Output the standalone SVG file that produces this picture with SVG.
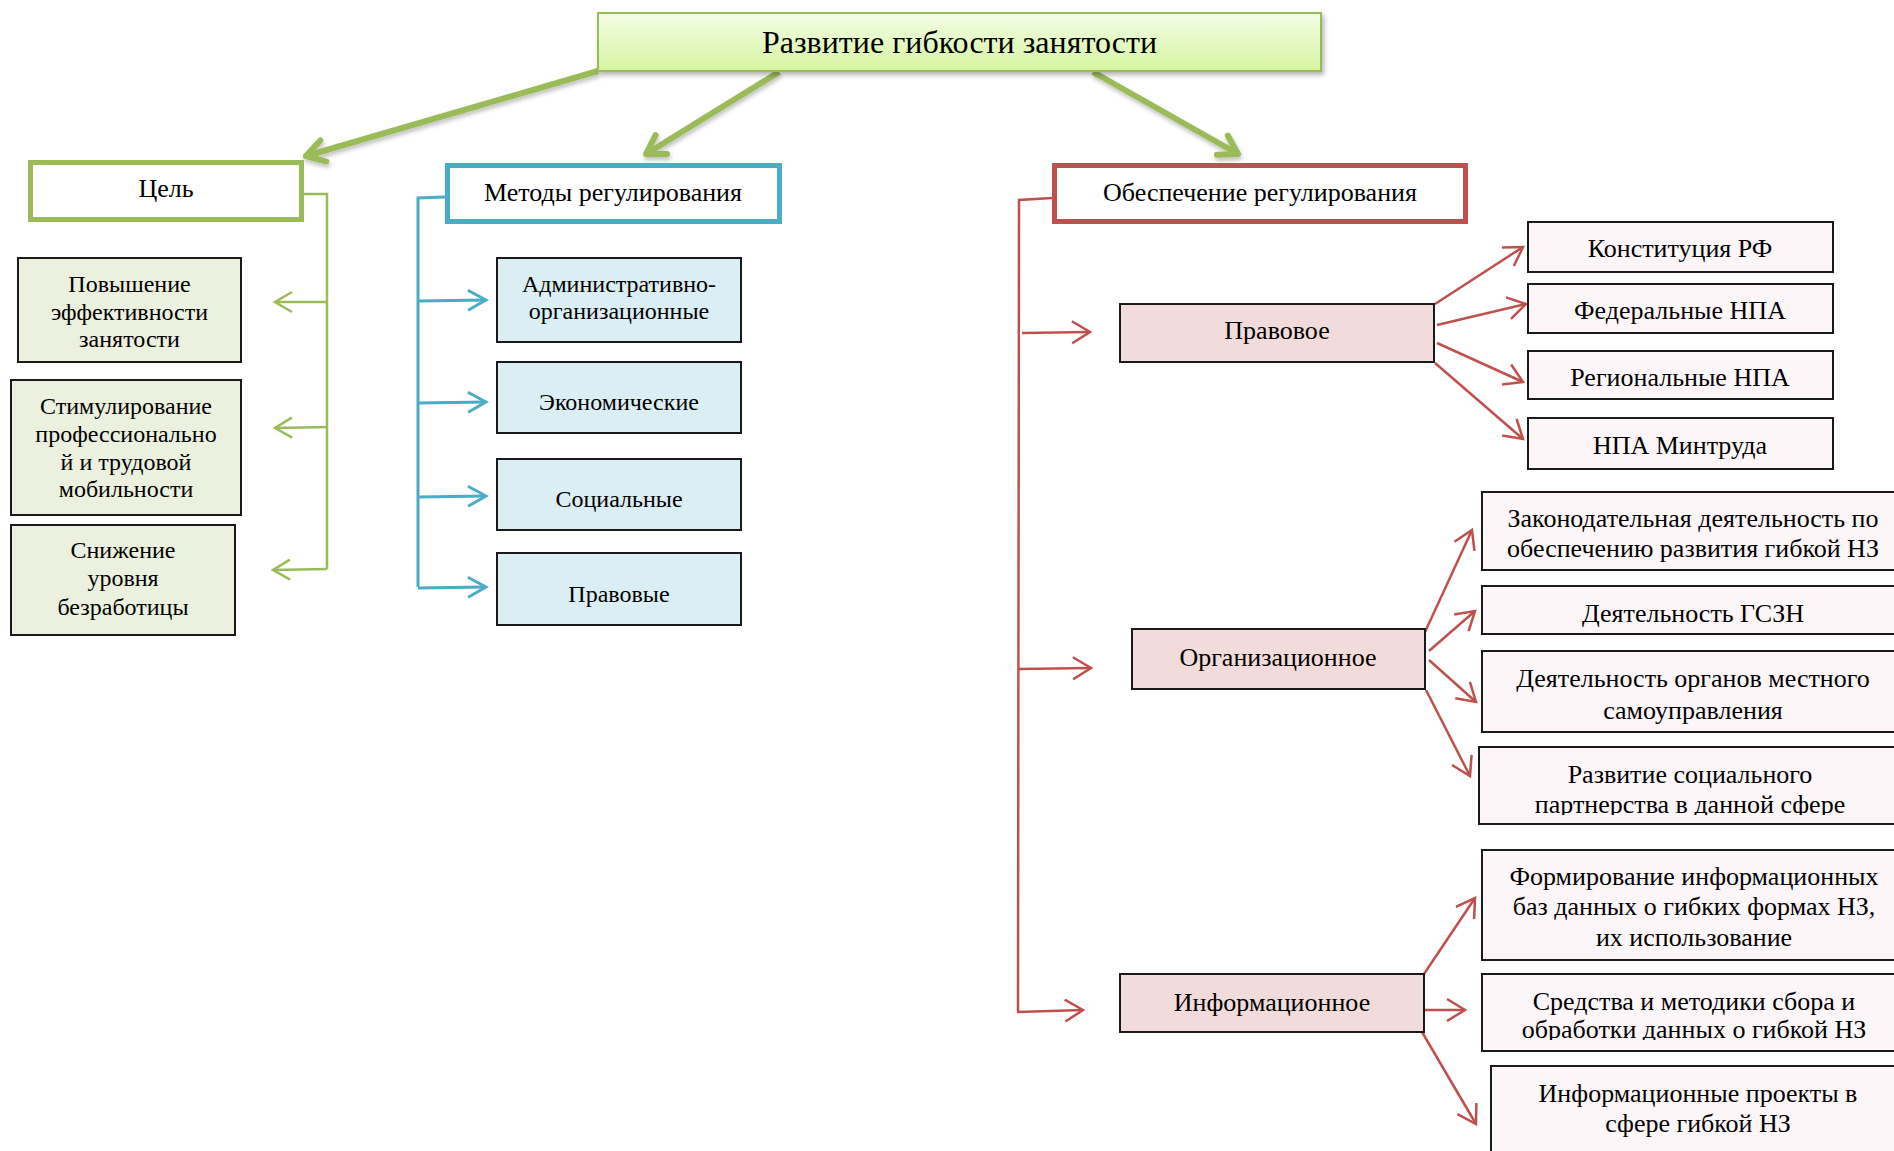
<svg xmlns="http://www.w3.org/2000/svg" width="1894" height="1151" viewBox="0 0 1894 1151">
<defs>
<style>
text{font-family:"Liberation Serif","Times New Roman",serif;fill:#000;text-anchor:middle}
.t32{font-size:32px}
.t26{font-size:26px}
.t24{font-size:24px}
.box{stroke:#1a1a1a;stroke-width:2}
.g{fill:#ebf1de}
.b{fill:#daeef3}
.r{fill:#f2dcdb}
.p{fill:#fdf6f9}
.cat{fill:#fff;stroke-width:5}
.big{stroke:#9bbb59;stroke-width:6;fill:none;marker-end:url(#mBig)}
.gl{stroke:#9bbb59;stroke-width:2.5;fill:none}
.bl{stroke:#4bacc6;stroke-width:3;fill:none}
.rl{stroke:#c0504d;stroke-width:2.5;fill:none}
</style>
<linearGradient id="topG" x1="0" y1="0" x2="0" y2="1">
<stop offset="0" stop-color="#f4fde6"/>
<stop offset="1" stop-color="#d6f5a0"/>
</linearGradient>
<filter id="sh" x="-10%" y="-30%" width="120%" height="170%">
<feDropShadow dx="2" dy="3" stdDeviation="2.5" flood-color="#000" flood-opacity="0.3"/>
</filter>
<filter id="ash" x="-20%" y="-20%" width="140%" height="140%">
<feDropShadow dx="1" dy="3" stdDeviation="2" flood-color="#000" flood-opacity="0.25"/>
</filter>
<marker id="mBig" markerUnits="userSpaceOnUse" viewBox="0 0 30 30" markerWidth="30" markerHeight="30" refX="26" refY="15" orient="auto">
<path d="M8,4 L26,15 L8,26" fill="none" stroke="#9bbb59" stroke-width="6" stroke-linecap="round" stroke-linejoin="round"/>
</marker>
<marker id="mG" markerUnits="userSpaceOnUse" viewBox="0 0 24 24" markerWidth="24" markerHeight="24" refX="21" refY="12" orient="auto">
<path d="M4,2 L21,12 L4,22" fill="none" stroke="#9bbb59" stroke-width="2.5"/>
</marker>
<marker id="mB" markerUnits="userSpaceOnUse" viewBox="0 0 24 24" markerWidth="24" markerHeight="24" refX="21" refY="12" orient="auto">
<path d="M3,2 L21,12 L3,22" fill="none" stroke="#4bacc6" stroke-width="3"/>
</marker>
<marker id="mR" markerUnits="userSpaceOnUse" viewBox="0 0 24 24" markerWidth="24" markerHeight="24" refX="21" refY="12" orient="auto">
<path d="M3,1 L21,12 L3,23" fill="none" stroke="#c0504d" stroke-width="2.5"/>
</marker>
<clipPath id="clipA"><rect x="1479" y="747" width="420" height="68"/></clipPath>
<clipPath id="clipB"><rect x="1482" y="974" width="420" height="66"/></clipPath>
</defs>

<rect width="1894" height="1151" fill="#fff"/>

<g id="connectors">
<g filter="url(#ash)">
<line class="big" x1="598" y1="71" x2="306" y2="156"/>
<line class="big" x1="779" y1="72" x2="646" y2="154"/>
<line class="big" x1="1093" y1="72" x2="1238" y2="154"/>
</g>
<polyline class="gl" points="304,194 327,194 327,569"/>
<line class="gl" x1="327" y1="302" x2="275" y2="302" marker-end="url(#mG)"/>
<line class="gl" x1="327" y1="427" x2="275" y2="428" marker-end="url(#mG)"/>
<line class="gl" x1="327" y1="569" x2="273" y2="570" marker-end="url(#mG)"/>

<polyline class="bl" points="445,197 418,198 418,587"/>
<line class="bl" x1="418" y1="301" x2="486" y2="300" marker-end="url(#mB)"/>
<line class="bl" x1="418" y1="403" x2="486" y2="402" marker-end="url(#mB)"/>
<line class="bl" x1="418" y1="497" x2="486" y2="496" marker-end="url(#mB)"/>
<line class="bl" x1="418" y1="588" x2="486" y2="587" marker-end="url(#mB)"/>

<polyline class="rl" points="1052,198 1019,200 1018,1012"/>
<line class="rl" x1="1022" y1="333" x2="1090" y2="332" marker-end="url(#mR)"/>
<line class="rl" x1="1019" y1="669" x2="1091" y2="668" marker-end="url(#mR)"/>
<line class="rl" x1="1017" y1="1012" x2="1083" y2="1010" marker-end="url(#mR)"/>

<line class="rl" x1="1435" y1="304" x2="1523" y2="247" marker-end="url(#mR)"/>
<line class="rl" x1="1437" y1="325" x2="1526" y2="304" marker-end="url(#mR)"/>
<line class="rl" x1="1437" y1="343" x2="1523" y2="382" marker-end="url(#mR)"/>
<line class="rl" x1="1435" y1="363" x2="1523" y2="439" marker-end="url(#mR)"/>

<line class="rl" x1="1425" y1="632" x2="1472" y2="530" marker-end="url(#mR)"/>
<line class="rl" x1="1429" y1="651" x2="1475" y2="611" marker-end="url(#mR)"/>
<line class="rl" x1="1429" y1="660" x2="1476" y2="702" marker-end="url(#mR)"/>
<line class="rl" x1="1426" y1="690" x2="1470" y2="776" marker-end="url(#mR)"/>

<line class="rl" x1="1424" y1="974" x2="1475" y2="898" marker-end="url(#mR)"/>
<line class="rl" x1="1424" y1="1010" x2="1465" y2="1010" marker-end="url(#mR)"/>
<line class="rl" x1="1422" y1="1032" x2="1476" y2="1124" marker-end="url(#mR)"/>
</g>

<g id="root">
<rect x="598" y="13" width="723" height="58" fill="url(#topG)" stroke="#9bbb59" stroke-width="2" filter="url(#sh)"/>
<text class="t32" x="959.5" y="53">Развитие гибкости занятости</text>
</g>

<g id="goal">
<rect class="cat" x="30.5" y="162.5" width="271" height="57" stroke="#9bbb59"/>
<text class="t26" x="166" y="197">Цель</text>
</g>
<g id="methods">
<rect class="cat" x="447.5" y="165.5" width="332" height="56" stroke="#4bacc6"/>
<text class="t26" x="613" y="201">Методы регулирования</text>
</g>
<g id="support">
<rect class="cat" x="1054.5" y="165.5" width="411" height="56" stroke="#c0504d"/>
<text class="t26" x="1260" y="201">Обеспечение регулирования</text>
</g>

<g id="goal1">
<rect class="box g" x="18" y="258" width="223" height="104"/>
<text class="t24" x="129.5"><tspan x="129.5" y="292">Повышение</tspan><tspan x="129.5" y="319.5">эффективности</tspan><tspan x="129.5" y="347">занятости</tspan></text>
</g>
<g id="goal2">
<rect class="box g" x="11" y="380" width="230" height="135"/>
<text class="t24"><tspan x="126" y="414">Стимулирование</tspan><tspan x="126" y="442">профессионально</tspan><tspan x="126" y="470">й и трудовой</tspan><tspan x="126" y="497">мобильности</tspan></text>
</g>
<g id="goal3">
<rect class="box g" x="11" y="525" width="224" height="110"/>
<text class="t24"><tspan x="123" y="558">Снижение</tspan><tspan x="123" y="586">уровня</tspan><tspan x="123" y="615">безработицы</tspan></text>
</g>

<g id="m1">
<rect class="box b" x="497" y="258" width="244" height="84"/>
<text class="t24"><tspan x="619" y="292">Административно-</tspan><tspan x="619" y="319">организационные</tspan></text>
</g>
<g id="m2">
<rect class="box b" x="497" y="362" width="244" height="71"/>
<text class="t24" x="619" y="410">Экономические</text>
</g>
<g id="m3">
<rect class="box b" x="497" y="459" width="244" height="71"/>
<text class="t24" x="619" y="507">Социальные</text>
</g>
<g id="m4">
<rect class="box b" x="497" y="553" width="244" height="72"/>
<text class="t24" x="619" y="602">Правовые</text>
</g>

<g id="legal">
<rect class="box r" x="1120" y="304" width="314" height="58"/>
<text class="t26" x="1277" y="339">Правовое</text>
</g>
<g id="org">
<rect class="box r" x="1132" y="629" width="293" height="60"/>
<text class="t26" x="1278" y="666">Организационное</text>
</g>
<g id="info">
<rect class="box r" x="1120" y="974" width="304" height="58"/>
<text class="t26" x="1272" y="1011">Информационное</text>
</g>

<g id="l1">
<rect class="box p" x="1528" y="222" width="305" height="50"/>
<text class="t26" x="1680" y="257">Конституция РФ</text>
</g>
<g id="l2">
<rect class="box p" x="1528" y="284" width="305" height="49"/>
<text class="t26" x="1680" y="319">Федеральные НПА</text>
</g>
<g id="l3">
<rect class="box p" x="1528" y="351" width="305" height="48"/>
<text class="t26" x="1680" y="386">Региональные НПА</text>
</g>
<g id="l4">
<rect class="box p" x="1528" y="418" width="305" height="51"/>
<text class="t26" x="1680" y="454">НПА Минтруда</text>
</g>

<g id="o1">
<rect class="box p" x="1482" y="492" width="420" height="78"/>
<text class="t26"><tspan x="1693" y="527">Законодательная деятельность по</tspan><tspan x="1693" y="557">обеспечению развития гибкой НЗ</tspan></text>
</g>
<g id="o2">
<rect class="box p" x="1482" y="586" width="420" height="48"/>
<text class="t26" x="1693" y="622">Деятельность ГСЗН</text>
</g>
<g id="o3">
<rect class="box p" x="1482" y="651" width="420" height="81"/>
<text class="t26"><tspan x="1693" y="687">Деятельность органов местного</tspan><tspan x="1693" y="719">самоуправления</tspan></text>
</g>
<g id="o4">
<rect class="box p" x="1479" y="747" width="420" height="77"/>
<text class="t26" clip-path="url(#clipA)"><tspan x="1690" y="783">Развитие социального</tspan><tspan x="1690" y="813">партнерства в данной сфере</tspan></text>
</g>

<g id="i1">
<rect class="box p" x="1482" y="850" width="420" height="110"/>
<text class="t26"><tspan x="1694" y="885">Формирование информационных</tspan><tspan x="1694" y="915">баз данных о гибких формах НЗ,</tspan><tspan x="1694" y="946">их использование</tspan></text>
</g>
<g id="i2">
<rect class="box p" x="1482" y="974" width="420" height="77"/>
<text class="t26" clip-path="url(#clipB)"><tspan x="1694" y="1010">Средства и методики сбора и</tspan><tspan x="1694" y="1038">обработки данных о гибкой НЗ</tspan></text>
</g>
<g id="i3">
<rect class="box p" x="1491" y="1066" width="420" height="100"/>
<text class="t26"><tspan x="1698" y="1102">Информационные проекты в</tspan><tspan x="1698" y="1132">сфере гибкой НЗ</tspan></text>
</g>
</svg>
